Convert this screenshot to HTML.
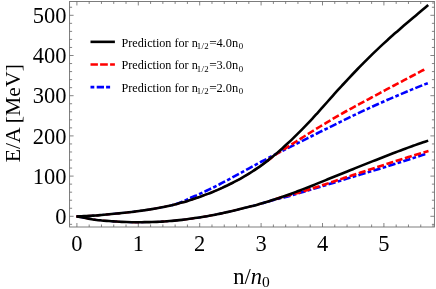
<!DOCTYPE html>
<html><head><meta charset="utf-8"><title>E/A vs n/n0</title>
<style>
html,body{margin:0;padding:0;background:#ffffff;}
body{width:436px;height:289px;overflow:hidden;position:relative;font-family:"Liberation Serif",serif;}
</style></head><body>
<svg width="436" height="289" viewBox="0 0 436 289" style="position:absolute;left:0;top:0;will-change:transform">
<rect x="0" y="0" width="436" height="289" fill="#ffffff"/>
<path d="M76.90 227.00V223.00M76.90 1.45V5.45M89.18 227.00V224.50M89.18 1.45V3.95M101.46 227.00V224.50M101.46 1.45V3.95M113.74 227.00V224.50M113.74 1.45V3.95M126.02 227.00V224.50M126.02 1.45V3.95M138.30 227.00V223.00M138.30 1.45V5.45M150.58 227.00V224.50M150.58 1.45V3.95M162.86 227.00V224.50M162.86 1.45V3.95M175.14 227.00V224.50M175.14 1.45V3.95M187.42 227.00V224.50M187.42 1.45V3.95M199.70 227.00V223.00M199.70 1.45V5.45M211.98 227.00V224.50M211.98 1.45V3.95M224.26 227.00V224.50M224.26 1.45V3.95M236.54 227.00V224.50M236.54 1.45V3.95M248.82 227.00V224.50M248.82 1.45V3.95M261.10 227.00V223.00M261.10 1.45V5.45M273.38 227.00V224.50M273.38 1.45V3.95M285.66 227.00V224.50M285.66 1.45V3.95M297.94 227.00V224.50M297.94 1.45V3.95M310.22 227.00V224.50M310.22 1.45V3.95M322.50 227.00V223.00M322.50 1.45V5.45M334.78 227.00V224.50M334.78 1.45V3.95M347.06 227.00V224.50M347.06 1.45V3.95M359.34 227.00V224.50M359.34 1.45V3.95M371.62 227.00V224.50M371.62 1.45V3.95M383.90 227.00V223.00M383.90 1.45V5.45M396.18 227.00V224.50M396.18 1.45V3.95M408.46 227.00V224.50M408.46 1.45V3.95M420.74 227.00V224.50M420.74 1.45V3.95M433.02 227.00V224.50M433.02 1.45V3.95M69.60 224.34H72.10M434.40 224.34H431.90M69.60 216.30H73.60M434.40 216.30H430.40M69.60 208.26H72.10M434.40 208.26H431.90M69.60 200.22H72.10M434.40 200.22H431.90M69.60 192.18H72.10M434.40 192.18H431.90M69.60 184.14H72.10M434.40 184.14H431.90M69.60 176.10H73.60M434.40 176.10H430.40M69.60 168.06H72.10M434.40 168.06H431.90M69.60 160.02H72.10M434.40 160.02H431.90M69.60 151.98H72.10M434.40 151.98H431.90M69.60 143.94H72.10M434.40 143.94H431.90M69.60 135.90H73.60M434.40 135.90H430.40M69.60 127.86H72.10M434.40 127.86H431.90M69.60 119.82H72.10M434.40 119.82H431.90M69.60 111.78H72.10M434.40 111.78H431.90M69.60 103.74H72.10M434.40 103.74H431.90M69.60 95.70H73.60M434.40 95.70H430.40M69.60 87.66H72.10M434.40 87.66H431.90M69.60 79.62H72.10M434.40 79.62H431.90M69.60 71.58H72.10M434.40 71.58H431.90M69.60 63.54H72.10M434.40 63.54H431.90M69.60 55.50H73.60M434.40 55.50H430.40M69.60 47.46H72.10M434.40 47.46H431.90M69.60 39.42H72.10M434.40 39.42H431.90M69.60 31.38H72.10M434.40 31.38H431.90M69.60 23.34H72.10M434.40 23.34H431.90M69.60 15.30H73.60M434.40 15.30H430.40M69.60 7.26H72.10M434.40 7.26H431.90" stroke="#666666" stroke-width="0.8" fill="none"/>
<rect x="69.60" y="1.45" width="364.80" height="225.55" fill="none" stroke="#666666" stroke-width="0.85"/>
<g fill="none" stroke-width="2.60" stroke-linecap="butt" stroke-linejoin="round">
<path d="M171.85 205.17 C171.02 205.36 168.51 205.94 166.83 206.30 C165.16 206.66 163.49 207.00 161.82 207.33 C160.14 207.66 158.47 207.97 156.80 208.27 C155.12 208.57 153.45 208.85 151.78 209.12 C150.11 209.39 148.43 209.65 146.76 209.90 C145.09 210.15 143.41 210.40 141.74 210.64 C140.07 210.88 138.40 211.11 136.72 211.33 C135.05 211.56 133.38 211.77 131.70 211.97 C130.03 212.17 128.36 212.36 126.69 212.55 C125.01 212.73 123.34 212.91 121.67 213.08 C119.99 213.25 118.32 213.42 116.65 213.57 C114.98 213.73 113.30 213.87 111.63 214.03 C109.96 214.18 108.28 214.35 106.61 214.51 C104.94 214.67 103.27 214.83 101.59 214.99 C99.92 215.14 98.25 215.32 96.57 215.45 C94.90 215.57 93.23 215.64 91.56 215.73 C89.88 215.83 88.21 215.91 86.54 215.99 C84.86 216.08 83.19 216.17 81.52 216.25 C79.85 216.34 77.34 216.47 76.50 216.52" stroke="#0000ff" stroke-width="1.9" stroke-dasharray="3.7 2.29 7.4 2.28"/>
<path d="M427.80 83.19 C426.96 83.51 424.45 84.48 422.78 85.13 C421.11 85.79 419.44 86.45 417.76 87.12 C416.09 87.79 414.42 88.47 412.74 89.16 C411.07 89.85 409.40 90.54 407.73 91.25 C406.05 91.95 404.38 92.66 402.71 93.37 C401.03 94.08 399.36 94.80 397.69 95.51 C396.02 96.21 394.34 96.91 392.67 97.63 C391.00 98.34 389.32 99.07 387.65 99.79 C385.98 100.52 384.31 101.25 382.63 102.00 C380.96 102.74 379.29 103.48 377.61 104.23 C375.94 104.99 374.27 105.74 372.60 106.51 C370.92 107.27 369.25 108.04 367.58 108.82 C365.90 109.59 364.23 110.37 362.56 111.16 C360.89 111.94 359.21 112.73 357.54 113.53 C355.87 114.32 354.19 115.13 352.52 115.93 C350.85 116.73 349.18 117.54 347.50 118.36 C345.83 119.17 344.16 119.99 342.48 120.81 C340.81 121.64 339.14 122.46 337.47 123.29 C335.79 124.12 334.12 124.96 332.45 125.80 C330.77 126.63 329.10 127.46 327.43 128.29 C325.76 129.12 324.08 129.94 322.41 130.77 C320.74 131.59 319.06 132.43 317.39 133.26 C315.72 134.10 314.05 134.94 312.37 135.78 C310.70 136.62 309.03 137.46 307.35 138.31 C305.68 139.15 304.01 140.01 302.34 140.85 C300.66 141.69 298.99 142.53 297.32 143.36 C295.64 144.19 293.97 145.02 292.30 145.85 C290.63 146.68 288.95 147.51 287.28 148.34 C285.61 149.17 283.93 150.00 282.26 150.84 C280.59 151.69 278.92 152.54 277.24 153.41 C275.57 154.27 273.90 155.15 272.22 156.03 C270.55 156.90 268.88 157.77 267.21 158.65 C265.53 159.52 263.86 160.39 262.19 161.27 C260.51 162.15 258.84 163.02 257.17 163.92 C255.50 164.82 253.82 165.76 252.15 166.68 C250.48 167.59 248.80 168.51 247.13 169.43 C245.46 170.35 243.79 171.26 242.11 172.18 C240.44 173.10 238.77 174.01 237.09 174.92 C235.42 175.83 233.75 176.74 232.08 177.64 C230.40 178.54 228.73 179.43 227.06 180.32 C225.38 181.21 223.71 182.10 222.04 182.97 C220.37 183.84 218.69 184.71 217.02 185.57 C215.35 186.43 213.67 187.29 212.00 188.12 C210.33 188.94 208.66 189.74 206.98 190.53 C205.31 191.32 203.64 192.10 201.96 192.87 C200.29 193.63 198.62 194.38 196.95 195.12 C195.27 195.85 193.60 196.53 191.93 197.27 C190.25 198.01 188.58 198.81 186.91 199.57 C185.24 200.34 183.56 201.16 181.89 201.86 C180.22 202.55 178.54 203.19 176.87 203.75 C175.20 204.30 172.69 204.93 171.85 205.17" stroke="#0000ff" stroke-dasharray="3.7 2.29 7.4 2.28"/>
<path d="M261.98 203.37 C261.14 203.61 258.63 204.37 256.96 204.82 C255.29 205.28 253.62 205.68 251.95 206.10 C250.28 206.51 248.61 206.90 246.94 207.32 C245.27 207.73 243.60 208.16 241.92 208.58 C240.25 209.00 238.58 209.43 236.91 209.84 C235.24 210.25 233.57 210.66 231.90 211.05 C230.23 211.45 228.56 211.83 226.89 212.21 C225.21 212.58 223.54 212.95 221.87 213.30 C220.20 213.66 218.53 214.00 216.86 214.34 C215.19 214.67 213.52 215.00 211.85 215.32 C210.18 215.63 208.51 215.94 206.83 216.23 C205.16 216.53 203.49 216.81 201.82 217.09 C200.15 217.36 198.48 217.63 196.81 217.88 C195.14 218.14 193.47 218.38 191.80 218.61 C190.12 218.84 188.45 219.06 186.78 219.28 C185.11 219.49 183.44 219.69 181.77 219.87 C180.10 220.06 178.43 220.24 176.76 220.41 C175.09 220.57 173.42 220.73 171.74 220.87 C170.07 221.01 168.40 221.14 166.73 221.26 C165.06 221.38 163.39 221.49 161.72 221.59 C160.05 221.68 158.38 221.77 156.71 221.84 C155.03 221.91 153.36 221.97 151.69 222.02 C150.02 222.07 148.35 222.10 146.68 222.13 C145.01 222.16 143.34 222.19 141.67 222.21 C140.00 222.23 138.33 222.24 136.65 222.24 C134.98 222.23 133.31 222.22 131.64 222.19 C129.97 222.16 128.30 222.11 126.63 222.06 C124.96 222.00 123.29 221.94 121.62 221.85 C119.94 221.77 118.27 221.68 116.60 221.57 C114.93 221.46 113.26 221.33 111.59 221.20 C109.92 221.08 108.25 220.97 106.58 220.83 C104.91 220.70 103.24 220.57 101.56 220.42 C99.89 220.27 98.22 220.13 96.55 219.92 C94.88 219.71 93.21 219.42 91.54 219.14 C89.87 218.87 88.20 218.57 86.53 218.26 C84.85 217.94 83.18 217.62 81.51 217.28 C79.84 216.94 77.34 216.40 76.50 216.22" stroke="#0000ff" stroke-width="1.9" stroke-dasharray="3.7 2.29 7.4 2.28"/>
<path d="M427.40 153.39 C426.56 153.66 424.06 154.50 422.39 155.05 C420.72 155.60 419.05 156.15 417.37 156.69 C415.70 157.24 414.03 157.78 412.36 158.32 C410.69 158.87 409.02 159.40 407.35 159.94 C405.68 160.48 404.01 161.02 402.34 161.55 C400.66 162.08 398.99 162.62 397.32 163.15 C395.65 163.68 393.98 164.21 392.31 164.74 C390.64 165.26 388.97 165.79 387.30 166.31 C385.63 166.84 383.96 167.37 382.28 167.89 C380.61 168.41 378.94 168.92 377.27 169.44 C375.60 169.95 373.93 170.46 372.26 170.97 C370.59 171.48 368.92 171.99 367.25 172.50 C365.57 173.01 363.90 173.52 362.23 174.02 C360.56 174.53 358.89 175.04 357.22 175.55 C355.55 176.06 353.88 176.56 352.21 177.07 C350.54 177.58 348.87 178.08 347.19 178.59 C345.52 179.10 343.85 179.61 342.18 180.11 C340.51 180.62 338.84 181.13 337.17 181.64 C335.50 182.14 333.83 182.65 332.16 183.15 C330.48 183.65 328.81 184.16 327.14 184.66 C325.47 185.16 323.80 185.67 322.13 186.17 C320.46 186.68 318.79 187.18 317.12 187.69 C315.45 188.20 313.78 188.70 312.10 189.21 C310.43 189.72 308.76 190.23 307.09 190.73 C305.42 191.24 303.75 191.75 302.08 192.25 C300.41 192.76 298.74 193.27 297.07 193.77 C295.39 194.27 293.72 194.80 292.05 195.28 C290.38 195.76 288.71 196.20 287.04 196.63 C285.37 197.06 283.70 197.44 282.03 197.85 C280.36 198.26 278.69 198.67 277.01 199.10 C275.34 199.53 273.67 199.98 272.00 200.44 C270.33 200.90 268.66 201.39 266.99 201.87 C265.32 202.36 262.81 203.12 261.98 203.37" stroke="#0000ff" stroke-dasharray="3.7 2.29 7.4 2.28" stroke-dashoffset="3.7"/>
<path d="M266.55 161.52 C265.72 162.13 263.22 164.02 261.55 165.22 C259.89 166.42 258.22 167.57 256.55 168.70 C254.88 169.83 253.22 170.92 251.55 171.98 C249.88 173.04 248.22 174.07 246.55 175.07 C244.88 176.08 243.21 177.05 241.55 178.00 C239.88 178.95 238.21 179.88 236.55 180.77 C234.88 181.67 233.21 182.52 231.54 183.36 C229.88 184.20 228.21 185.01 226.54 185.81 C224.88 186.60 223.21 187.38 221.54 188.13 C219.87 188.89 218.21 189.63 216.54 190.34 C214.87 191.06 213.21 191.75 211.54 192.42 C209.87 193.09 208.20 193.73 206.54 194.36 C204.87 194.99 203.20 195.58 201.54 196.19 C199.87 196.80 198.20 197.41 196.53 198.00 C194.87 198.59 193.20 199.19 191.53 199.74 C189.87 200.29 188.20 200.80 186.53 201.30 C184.86 201.80 183.20 202.27 181.53 202.73 C179.86 203.19 178.20 203.62 176.53 204.05 C174.86 204.47 173.19 204.87 171.53 205.26 C169.86 205.64 168.19 206.01 166.53 206.37 C164.86 206.72 163.19 207.06 161.52 207.39 C159.86 207.71 158.19 208.02 156.52 208.32 C154.86 208.61 153.19 208.89 151.52 209.16 C149.85 209.43 148.19 209.68 146.52 209.94 C144.85 210.19 143.19 210.44 141.52 210.67 C139.85 210.91 138.18 211.14 136.52 211.36 C134.85 211.58 133.18 211.79 131.52 211.99 C129.85 212.19 128.18 212.38 126.51 212.57 C124.85 212.75 123.18 212.93 121.51 213.10 C119.85 213.27 118.18 213.43 116.51 213.59 C114.84 213.74 113.18 213.88 111.51 214.04 C109.84 214.19 108.18 214.36 106.51 214.52 C104.84 214.68 103.17 214.84 101.51 214.99 C99.84 215.15 98.17 215.33 96.51 215.45 C94.84 215.58 93.17 215.65 91.50 215.74 C89.84 215.83 88.17 215.91 86.50 216.00 C84.84 216.08 83.17 216.17 81.50 216.25 C79.83 216.34 77.33 216.47 76.50 216.52" stroke="#ff0000" stroke-width="1.9" stroke-dasharray="7.1 2.6"/>
<path d="M426.60 68.33 C425.77 68.77 423.27 70.08 421.60 70.96 C419.93 71.84 418.26 72.72 416.60 73.60 C414.93 74.48 413.26 75.36 411.60 76.25 C409.93 77.13 408.26 78.02 406.59 78.90 C404.93 79.79 403.26 80.69 401.59 81.57 C399.93 82.46 398.26 83.33 396.59 84.20 C394.92 85.08 393.26 85.95 391.59 86.83 C389.92 87.70 388.26 88.58 386.59 89.46 C384.92 90.34 383.25 91.23 381.59 92.12 C379.92 93.00 378.25 93.89 376.59 94.79 C374.92 95.68 373.25 96.58 371.58 97.48 C369.92 98.38 368.25 99.30 366.58 100.20 C364.92 101.10 363.25 101.99 361.58 102.88 C359.91 103.77 358.25 104.66 356.58 105.56 C354.91 106.46 353.25 107.36 351.58 108.27 C349.91 109.17 348.24 110.08 346.58 111.00 C344.91 111.92 343.24 112.85 341.58 113.80 C339.91 114.75 338.24 115.73 336.57 116.71 C334.91 117.68 333.24 118.66 331.57 119.65 C329.91 120.63 328.24 121.62 326.57 122.62 C324.90 123.62 323.24 124.62 321.57 125.63 C319.90 126.64 318.24 127.66 316.57 128.68 C314.90 129.70 313.23 130.73 311.57 131.77 C309.90 132.81 308.23 133.85 306.57 134.90 C304.90 135.95 303.23 137.02 301.56 138.08 C299.90 139.14 298.23 140.19 296.56 141.25 C294.90 142.31 293.23 143.37 291.56 144.45 C289.89 145.52 288.23 146.65 286.56 147.70 C284.89 148.75 283.23 149.71 281.56 150.76 C279.89 151.80 278.22 152.79 276.56 153.94 C274.89 155.09 273.22 156.36 271.56 157.63 C269.89 158.89 267.39 160.87 266.55 161.52" stroke="#ff0000" stroke-dasharray="7.1 2.6" stroke-dashoffset="7.1"/>
<path d="M272.61 200.06 C271.78 200.32 269.26 201.13 267.59 201.65 C265.91 202.17 264.23 202.69 262.56 203.20 C260.88 203.70 259.20 204.22 257.53 204.68 C255.85 205.14 254.18 205.54 252.50 205.96 C250.82 206.38 249.15 206.78 247.47 207.19 C245.80 207.60 244.12 208.02 242.44 208.44 C240.77 208.86 239.09 209.30 237.41 209.72 C235.74 210.13 234.06 210.54 232.39 210.94 C230.71 211.33 229.03 211.72 227.36 212.10 C225.68 212.48 224.00 212.85 222.33 213.20 C220.65 213.56 218.98 213.91 217.30 214.25 C215.62 214.59 213.95 214.92 212.27 215.24 C210.60 215.55 208.92 215.86 207.24 216.16 C205.57 216.46 203.89 216.75 202.21 217.02 C200.54 217.30 198.86 217.57 197.19 217.82 C195.51 218.08 193.83 218.33 192.16 218.56 C190.48 218.80 188.80 219.02 187.13 219.23 C185.45 219.44 183.78 219.65 182.10 219.84 C180.42 220.03 178.75 220.21 177.07 220.37 C175.40 220.54 173.72 220.70 172.04 220.84 C170.37 220.99 168.69 221.12 167.01 221.24 C165.34 221.36 163.66 221.47 161.99 221.57 C160.31 221.67 158.63 221.76 156.96 221.83 C155.28 221.90 153.60 221.97 151.93 222.01 C150.25 222.06 148.58 222.09 146.90 222.13 C145.22 222.16 143.55 222.19 141.87 222.21 C140.20 222.22 138.52 222.24 136.84 222.24 C135.17 222.23 133.49 222.22 131.81 222.19 C130.14 222.16 128.46 222.12 126.79 222.06 C125.11 222.01 123.43 221.94 121.76 221.86 C120.08 221.78 118.40 221.69 116.73 221.58 C115.05 221.47 113.38 221.33 111.70 221.21 C110.02 221.09 108.35 220.97 106.67 220.84 C105.00 220.71 103.32 220.58 101.64 220.43 C99.97 220.27 98.29 220.14 96.61 219.93 C94.94 219.72 93.26 219.43 91.59 219.15 C89.91 218.87 88.23 218.57 86.56 218.26 C84.88 217.95 83.20 217.62 81.53 217.28 C79.85 216.94 77.34 216.40 76.50 216.22" stroke="#ff0000" stroke-width="1.9" stroke-dasharray="7.1 2.6"/>
<path d="M428.50 151.09 C427.66 151.33 425.15 152.04 423.47 152.53 C421.80 153.01 420.12 153.51 418.44 154.01 C416.77 154.51 415.09 155.01 413.41 155.52 C411.74 156.03 410.06 156.54 408.39 157.06 C406.71 157.58 405.03 158.10 403.36 158.63 C401.68 159.16 400.00 159.69 398.33 160.22 C396.65 160.76 394.98 161.30 393.30 161.84 C391.62 162.38 389.95 162.93 388.27 163.48 C386.60 164.03 384.92 164.59 383.24 165.14 C381.57 165.69 379.89 166.25 378.21 166.79 C376.54 167.34 374.86 167.87 373.19 168.41 C371.51 168.96 369.83 169.50 368.16 170.05 C366.48 170.60 364.80 171.14 363.13 171.70 C361.45 172.25 359.78 172.80 358.10 173.35 C356.42 173.90 354.75 174.46 353.07 175.01 C351.40 175.57 349.72 176.13 348.04 176.68 C346.37 177.24 344.69 177.80 343.01 178.36 C341.34 178.91 339.66 179.47 337.99 180.03 C336.31 180.59 334.63 181.15 332.96 181.70 C331.28 182.26 329.60 182.82 327.93 183.37 C326.25 183.93 324.58 184.48 322.90 185.04 C321.22 185.59 319.55 186.15 317.87 186.70 C316.20 187.25 314.52 187.80 312.84 188.35 C311.17 188.90 309.49 189.45 307.81 189.99 C306.14 190.53 304.46 191.09 302.79 191.58 C301.11 192.07 299.43 192.50 297.76 192.94 C296.08 193.38 294.40 193.79 292.73 194.22 C291.05 194.65 289.38 195.08 287.70 195.53 C286.02 195.97 284.35 196.43 282.67 196.91 C281.00 197.39 279.32 197.91 277.64 198.43 C275.97 198.96 273.45 199.79 272.61 200.06" stroke="#ff0000" stroke-dasharray="7.1 2.6" stroke-dashoffset="1.9"/>
<path d="M76.50 216.52 C77.34 216.47 79.85 216.34 81.52 216.25 C83.20 216.17 84.87 216.08 86.55 215.99 C88.22 215.91 89.90 215.83 91.57 215.73 C93.25 215.64 94.92 215.57 96.60 215.45 C98.27 215.32 99.95 215.14 101.62 214.98 C103.30 214.83 104.97 214.66 106.65 214.50 C108.32 214.34 110.00 214.18 111.67 214.03 C113.34 213.87 115.02 213.73 116.69 213.57 C118.37 213.41 120.04 213.25 121.72 213.08 C123.39 212.91 125.07 212.73 126.74 212.54 C128.42 212.36 130.09 212.16 131.77 211.96 C133.44 211.76 135.12 211.55 136.79 211.33 C138.47 211.10 140.14 210.87 141.82 210.63 C143.49 210.39 145.17 210.14 146.84 209.89 C148.51 209.63 150.19 209.38 151.86 209.11 C153.54 208.83 155.21 208.55 156.89 208.25 C158.56 207.95 160.24 207.64 161.91 207.31 C163.59 206.98 165.26 206.64 166.94 206.28 C168.61 205.92 170.29 205.55 171.96 205.15 C173.64 204.76 175.31 204.36 176.99 203.93 C178.66 203.50 180.34 203.06 182.01 202.60 C183.68 202.14 185.36 201.66 187.03 201.15 C188.71 200.65 190.38 200.12 192.06 199.56 C193.73 199.00 195.41 198.40 197.08 197.80 C198.76 197.21 200.43 196.60 202.11 195.99 C203.78 195.38 205.46 194.78 207.13 194.14 C208.81 193.50 210.48 192.85 212.16 192.17 C213.83 191.49 215.51 190.79 217.18 190.07 C218.85 189.34 220.53 188.60 222.20 187.83 C223.88 187.07 225.55 186.28 227.23 185.48 C228.90 184.67 230.58 183.85 232.25 183.00 C233.93 182.15 235.60 181.28 237.28 180.38 C238.95 179.47 240.63 178.53 242.30 177.57 C243.98 176.61 245.65 175.62 247.33 174.60 C249.00 173.59 250.68 172.54 252.35 171.47 C254.02 170.39 255.70 169.28 257.37 168.14 C259.05 167.00 260.72 165.82 262.40 164.61 C264.07 163.39 265.75 162.14 267.42 160.85 C269.10 159.56 270.77 158.23 272.45 156.86 C274.12 155.48 275.80 154.06 277.47 152.61 C279.15 151.16 280.82 149.65 282.50 148.14 C284.17 146.64 285.85 145.12 287.52 143.57 C289.19 142.01 290.87 140.43 292.54 138.82 C294.22 137.21 295.89 135.56 297.57 133.90 C299.24 132.24 300.92 130.55 302.59 128.85 C304.27 127.14 305.94 125.42 307.62 123.67 C309.29 121.92 310.97 120.14 312.64 118.33 C314.32 116.51 315.99 114.63 317.67 112.77 C319.34 110.91 321.02 109.03 322.69 107.15 C324.36 105.27 326.04 103.39 327.71 101.50 C329.39 99.61 331.06 97.72 332.74 95.83 C334.41 93.95 336.09 92.05 337.76 90.20 C339.44 88.35 341.11 86.56 342.79 84.75 C344.46 82.94 346.14 81.14 347.81 79.35 C349.49 77.56 351.16 75.78 352.84 74.01 C354.51 72.25 356.19 70.50 357.86 68.77 C359.53 67.04 361.21 65.34 362.88 63.64 C364.56 61.95 366.23 60.27 367.91 58.61 C369.58 56.94 371.26 55.28 372.93 53.65 C374.61 52.02 376.28 50.41 377.96 48.82 C379.63 47.23 381.31 45.67 382.98 44.12 C384.66 42.57 386.33 41.05 388.01 39.54 C389.68 38.03 391.36 36.54 393.03 35.07 C394.70 33.59 396.38 32.15 398.05 30.69 C399.73 29.23 401.40 27.74 403.08 26.29 C404.75 24.84 406.43 23.40 408.10 21.98 C409.78 20.55 411.45 19.14 413.13 17.74 C414.80 16.34 416.48 14.97 418.15 13.57 C419.83 12.17 421.50 10.75 423.18 9.34 C424.85 7.92 427.36 5.79 428.20 5.08" stroke="#000000"/>
<path d="M76.50 216.22 C77.34 216.40 79.85 216.94 81.52 217.28 C83.20 217.62 84.87 217.95 86.55 218.26 C88.22 218.57 89.90 218.87 91.57 219.15 C93.25 219.43 94.92 219.71 96.60 219.93 C98.27 220.14 99.95 220.27 101.62 220.42 C103.30 220.58 104.97 220.71 106.65 220.84 C108.32 220.97 110.00 221.09 111.67 221.21 C113.34 221.33 115.02 221.47 116.69 221.57 C118.37 221.68 120.04 221.78 121.72 221.86 C123.39 221.94 125.07 222.01 126.74 222.06 C128.42 222.12 130.09 222.16 131.77 222.19 C133.44 222.22 135.12 222.23 136.79 222.24 C138.47 222.24 140.14 222.22 141.82 222.21 C143.49 222.19 145.17 222.16 146.84 222.13 C148.51 222.10 150.19 222.07 151.86 222.02 C153.54 221.97 155.21 221.91 156.89 221.83 C158.56 221.76 160.24 221.67 161.91 221.58 C163.59 221.48 165.26 221.37 166.94 221.25 C168.61 221.13 170.29 220.99 171.96 220.85 C173.64 220.71 175.31 220.55 176.99 220.38 C178.66 220.22 180.34 220.04 182.01 219.85 C183.68 219.66 185.36 219.46 187.03 219.24 C188.71 219.03 190.38 218.81 192.06 218.57 C193.73 218.34 195.41 218.10 197.08 217.84 C198.76 217.59 200.43 217.32 202.11 217.04 C203.78 216.77 205.46 216.48 207.13 216.18 C208.81 215.88 210.48 215.58 212.16 215.26 C213.83 214.94 215.51 214.61 217.18 214.27 C218.85 213.94 220.53 213.59 222.20 213.23 C223.88 212.87 225.55 212.51 227.23 212.13 C228.90 211.75 230.58 211.36 232.25 210.97 C233.93 210.57 235.60 210.17 237.28 209.75 C238.95 209.34 240.63 208.90 242.30 208.48 C243.98 208.06 245.65 207.64 247.33 207.22 C249.00 206.81 250.68 206.41 252.35 206.00 C254.02 205.58 255.70 205.18 257.37 204.72 C259.05 204.26 260.72 203.75 262.40 203.24 C264.07 202.74 265.75 202.22 267.42 201.70 C269.10 201.18 270.77 200.65 272.45 200.11 C274.12 199.57 275.80 199.02 277.47 198.47 C279.15 197.92 280.82 197.35 282.50 196.79 C284.17 196.22 285.85 195.65 287.52 195.06 C289.19 194.47 290.87 193.86 292.54 193.24 C294.22 192.62 295.89 191.97 297.57 191.33 C299.24 190.69 300.92 190.04 302.59 189.39 C304.27 188.74 305.94 188.08 307.62 187.42 C309.29 186.76 310.97 186.10 312.64 185.43 C314.32 184.76 315.99 184.09 317.67 183.41 C319.34 182.73 321.02 182.05 322.69 181.37 C324.36 180.69 326.04 180.01 327.71 179.32 C329.39 178.63 331.06 177.94 332.74 177.25 C334.41 176.57 336.09 175.89 337.76 175.21 C339.44 174.54 341.11 173.87 342.79 173.20 C344.46 172.53 346.14 171.86 347.81 171.19 C349.49 170.51 351.16 169.84 352.84 169.17 C354.51 168.50 356.19 167.82 357.86 167.15 C359.53 166.48 361.21 165.81 362.88 165.14 C364.56 164.48 366.23 163.81 367.91 163.14 C369.58 162.48 371.26 161.81 372.93 161.15 C374.61 160.49 376.28 159.84 377.96 159.18 C379.63 158.52 381.31 157.86 382.98 157.20 C384.66 156.55 386.33 155.89 388.01 155.24 C389.68 154.59 391.36 153.94 393.03 153.29 C394.70 152.65 396.38 152.01 398.05 151.38 C399.73 150.75 401.40 150.12 403.08 149.49 C404.75 148.87 406.43 148.25 408.10 147.64 C409.78 147.03 411.45 146.42 413.13 145.83 C414.80 145.23 416.48 144.64 418.15 144.05 C419.83 143.47 421.50 142.89 423.18 142.32 C424.85 141.75 427.36 140.91 428.20 140.63" stroke="#000000"/>
</g>
<g fill="none" stroke-width="2.6">
<path d="M90.5 41.85H114.9" stroke="#000"/>
<path d="M90.5 64.5H97.9M100.1 64.5H107.8M110.1 64.5H114.9" stroke="#ff0000"/>
<path d="M90.5 87.1H94.3M96.7 87.1H104M106.1 87.1H110.1" stroke="#0000ff"/>
</g>
<g font-family="&quot;Liberation Serif&quot;, serif" fill="#000000">
<text transform="translate(66.4 224.00) scale(1 1.035)" font-size="22.5" text-anchor="end">0</text>
<text transform="translate(66.4 183.80) scale(1 1.035)" font-size="22.5" text-anchor="end">100</text>
<text transform="translate(66.4 143.60) scale(1 1.035)" font-size="22.5" text-anchor="end">200</text>
<text transform="translate(66.4 103.40) scale(1 1.035)" font-size="22.5" text-anchor="end">300</text>
<text transform="translate(66.4 63.20) scale(1 1.035)" font-size="22.5" text-anchor="end">400</text>
<text transform="translate(66.4 23.00) scale(1 1.035)" font-size="22.5" text-anchor="end">500</text>
<text transform="translate(76.90 251.1) scale(1 1.035)" font-size="22.5" text-anchor="middle">0</text>
<text transform="translate(138.30 251.1) scale(1 1.035)" font-size="22.5" text-anchor="middle">1</text>
<text transform="translate(199.70 251.1) scale(1 1.035)" font-size="22.5" text-anchor="middle">2</text>
<text transform="translate(261.10 251.1) scale(1 1.035)" font-size="22.5" text-anchor="middle">3</text>
<text transform="translate(322.50 251.1) scale(1 1.035)" font-size="22.5" text-anchor="middle">4</text>
<text transform="translate(383.90 251.1) scale(1 1.035)" font-size="22.5" text-anchor="middle">5</text>
<text x="233.2" y="284" font-size="22.5">n/<tspan font-style="italic">n</tspan><tspan font-size="15.5" dy="3">0</tspan></text>
<text transform="translate(20.0 162.3) rotate(-90)" font-size="21.7">E/A [MeV]</text>
<text y="46.95" font-size="12.15"><tspan x="121.5" word-spacing="0">Prediction for n</tspan><tspan x="196.8" font-size="8.80" dy="2.2" letter-spacing="0.3">1/2</tspan><tspan x="209.35" dy="-2.2" font-size="13.4">=</tspan><tspan x="216.4" font-size="12.4">4.0n</tspan><tspan x="238.8" font-size="8.80" dy="2.1">0</tspan></text>
<text y="69.45" font-size="12.15"><tspan x="121.5" word-spacing="0">Prediction for n</tspan><tspan x="196.8" font-size="8.80" dy="2.2" letter-spacing="0.3">1/2</tspan><tspan x="209.35" dy="-2.2" font-size="13.4">=</tspan><tspan x="216.4" font-size="12.4">3.0n</tspan><tspan x="238.8" font-size="8.80" dy="2.1">0</tspan></text>
<text y="91.95" font-size="12.15"><tspan x="121.5" word-spacing="0">Prediction for n</tspan><tspan x="196.8" font-size="8.80" dy="2.2" letter-spacing="0.3">1/2</tspan><tspan x="209.35" dy="-2.2" font-size="13.4">=</tspan><tspan x="216.4" font-size="12.4">2.0n</tspan><tspan x="238.8" font-size="8.80" dy="2.1">0</tspan></text>
</g>
</svg>
</body></html>
